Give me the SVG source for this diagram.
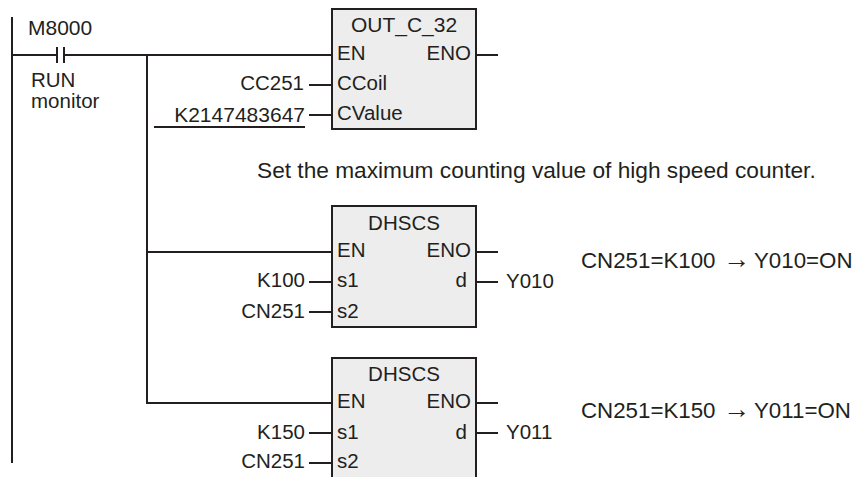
<svg xmlns="http://www.w3.org/2000/svg" width="853" height="477" viewBox="0 0 853 477">
<style>
text{font-family:"Liberation Sans",Arial,sans-serif;font-size:20.5px;fill:#231f20}
.w{font-size:21px}
.n{font-size:22.7px}
.s{font-size:22.3px}
.a{font-family:"Liberation Serif","DejaVu Sans",serif;font-size:27px}
.e{text-anchor:end}.m{text-anchor:middle}
.b{fill:#ededed;stroke:#231f20;stroke-width:2}
#connectors path{fill:none;stroke:#231f20;stroke-width:2}
</style>
<rect width="853" height="477" fill="#fff"/>
<g id="connectors">
<path d="M12 17V463"/>
<path d="M12 55H57M57 47V63M64 47V63M64 55H332"/>
<path d="M147 55V403H332"/>
<path d="M147 252H332"/>
<path d="M154 127H305"/>
<path d="M309 85H332M309 115H332"/>
<path d="M476 55H498"/>
<path d="M476 252H498M476 282H498"/>
<path d="M309 282H332M309 312H332"/>
<path d="M309 433H332M309 463H332"/>
<path d="M476 403H498M476 433H498"/>
</g>
<g id="contact-M8000">
<text class="w" x="28" y="35">M8000</text>
<text x="31" y="87">RUN</text>
<text x="31" y="108">monitor</text>
</g>
<g id="block-out-c-32">
<rect class="b" x="332" y="9" width="144" height="120"/>
<text class="m w" x="404" y="32">OUT_C_32</text>
<text x="337" y="60">EN</text>
<text class="e" x="471" y="60">ENO</text>
<text x="337" y="90">CCoil</text>
<text x="337" y="120">CValue</text>
<text class="e" x="304" y="90">CC251</text>
<text class="e w" x="305" y="122">K2147483647</text>
</g>
<text id="note" class="n" x="257" y="178">Set the maximum counting value of high speed counter.</text>
<g id="block-dhscs-1">
<rect class="b" x="332" y="206" width="144" height="121"/>
<text class="m" x="404" y="230">DHSCS</text>
<text x="337" y="257">EN</text>
<text class="e" x="471" y="257">ENO</text>
<text x="337" y="287">s1</text>
<text x="337" y="318">s2</text>
<text class="e" x="467" y="287">d</text>
<text class="e" x="305" y="287">K100</text>
<text class="e" x="305" y="318">CN251</text>
<text x="506" y="288">Y010</text>
<text class="s" x="581" y="268">CN251=K100 <tspan class="a" x="723">→</tspan><tspan x="754">Y010=ON</tspan></text>
</g>
<g id="block-dhscs-2">
<path class="b" d="M332 477V358H476V477"/>
<text class="m" x="404" y="381">DHSCS</text>
<text x="337" y="408">EN</text>
<text class="e" x="471" y="408">ENO</text>
<text x="337" y="439">s1</text>
<text x="337" y="468">s2</text>
<text class="e" x="467" y="439">d</text>
<text class="e" x="305" y="439">K150</text>
<text class="e" x="305" y="468">CN251</text>
<text x="506" y="439">Y011</text>
<text class="s" x="581" y="418">CN251=K150 <tspan class="a" x="723">→</tspan><tspan x="754">Y011=ON</tspan></text>
</g>
</svg>
